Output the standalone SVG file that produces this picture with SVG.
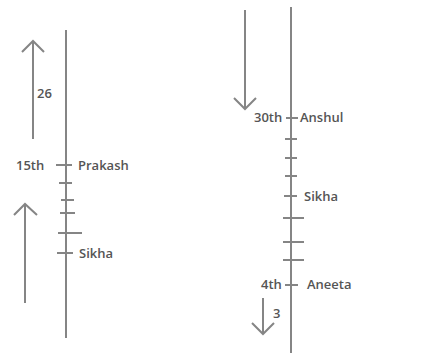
<svg xmlns="http://www.w3.org/2000/svg" width="443" height="353" viewBox="0 0 443 353">
<style>
.ln{stroke:#858585;stroke-width:2;fill:none;stroke-linecap:butt}
.t{font-family:"Open Sans","Liberation Sans",sans-serif;font-size:13px;font-weight:600;fill:#555;dominant-baseline:central}
</style>
<rect width="443" height="353" fill="#fff"/>
<g id="connectors">
<path class="ln" d="M66 30V338"/>
<path class="ln" d="M33 139V41M22 52L33 41L44 52"/>
<path class="ln" d="M25 303V204M14 215L25 204L37 215"/>
<path class="ln" d="M291 7V353"/>
<path class="ln" d="M245 10V109M234 98L245 109L256 98"/>
<path class="ln" d="M263 298V334M252 323L263 334L274 323"/>
</g>
<g id="left-ticks">
<path class="ln" d="M56 165H72M59 183H72M61 200H74M60 213H75M58 233H82M57 253H73"/>
</g>
<g id="right-ticks">
<path class="ln" d="M286 118H298M285 139H297M285 158H297M285 176H297M284 196H297M283 218H304M283 242H304M283 260H304M285 285H298"/>
</g>
<g id="label-26"><text class="t" x="37" y="93">26</text></g>
<g id="node-prakash"><text class="t" x="16" y="165">15th</text><text class="t" x="78" y="165">Prakash</text></g>
<g id="node-sikha-left"><text class="t" x="79" y="253">Sikha</text></g>
<g id="node-anshul"><text class="t" x="254" y="117">30th</text><text class="t" x="300" y="117">Anshul</text></g>
<g id="node-sikha-right"><text class="t" x="304" y="196">Sikha</text></g>
<g id="node-aneeta"><text class="t" x="261" y="284">4th</text><text class="t" x="307" y="284">Aneeta</text></g>
<g id="label-3"><text class="t" x="273" y="313">3</text></g>
</svg>
